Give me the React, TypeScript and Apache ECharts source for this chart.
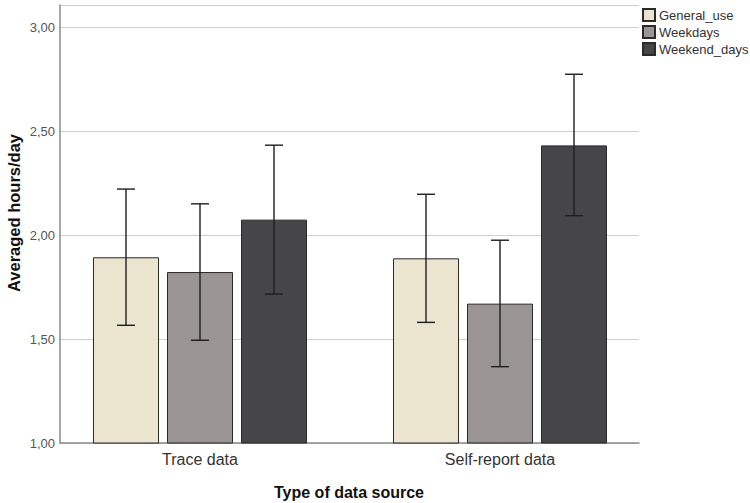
import React, { useEffect, useRef } from "react";
import * as echarts from "echarts";

const categories = ["Trace data", "Self-report data"];
const seriesNames = ["General_use", "Weekdays", "Weekend_days"];
const means = [
  [1.893, 1.888],
  [1.822, 1.67],
  [2.074, 2.431],
];
const lowerCI = [
  [1.566, 1.58],
  [1.494, 1.367],
  [1.716, 2.093],
];
const upperCI = [
  [2.221, 2.196],
  [2.15, 1.975],
  [2.432, 2.773],
];
const colors = ["#ebe4cf", "#9a9594", "#464648"];

export default function App() {
  const ref = useRef<HTMLDivElement>(null);
  useEffect(() => {
    if (!ref.current) return;
    const chart = echarts.init(ref.current, undefined, { renderer: "svg" });
    const font = "Liberation Sans, Arial, sans-serif";
    const yMin = 1;
    const yMax = 3.106;
    const barWidth = 66;
    const gap = 8;
    const offsets = [-(barWidth + gap), 0, barWidth + gap];

    const barSeries = seriesNames.map((name, i) => ({
      name,
      type: "bar",
      xAxisIndex: 1,
      yAxisIndex: 1,
      barWidth,
      barGap: (gap / barWidth) * 100 + "%",
      data: means[i],
      itemStyle: { color: colors[i], borderColor: "#2a2a2a", borderWidth: 1 },
      z: 3,
    }));

    const errSeries = seriesNames.map((name, i) => ({
      name: name + "_err",
      type: "custom",
      xAxisIndex: 1,
      yAxisIndex: 1,
      z: 5,
      data: categories.map((_, c) => [c, lowerCI[i][c], upperCI[i][c]]),
      renderItem: (params: any, api: any) => {
        const c = api.value(0);
        const lo = api.coord([c, api.value(1)]);
        const hi = api.coord([c, api.value(2)]);
        const x = lo[0] + offsets[i];
        const cap = 9;
        const style = { stroke: "#1e1e1e", lineWidth: 1.4 };
        return {
          type: "group",
          children: [
            { type: "line", shape: { x1: x, y1: hi[1], x2: x, y2: lo[1] }, style },
            { type: "line", shape: { x1: x - cap, y1: hi[1], x2: x + cap, y2: hi[1] }, style },
            { type: "line", shape: { x1: x - cap, y1: lo[1], x2: x + cap, y2: lo[1] }, style },
          ],
        };
      },
    }));

    chart.setOption({
      animation: false,
      backgroundColor: "#ffffff",
      grid: [
        { left: 60, right: 111, top: 5, bottom: 60 },
        { left: 50, right: 100, top: 5, bottom: 60 },
      ],
      xAxis: [
        {
          type: "value",
          gridIndex: 0,
          min: 0,
          max: 1,
          axisLine: { show: true, onZero: false, lineStyle: { color: "#8a8a8a", width: 1.5 } },
          axisTick: { show: false },
          axisLabel: { show: false },
          splitLine: { show: false },
        },
        {
          type: "category",
          gridIndex: 1,
          data: categories,
          axisLine: { show: false },
          axisTick: { show: false },
          axisLabel: { color: "#333333", fontSize: 16, fontFamily: font, margin: 8 },
        },
      ],
      yAxis: [
        {
          type: "value",
          gridIndex: 0,
          min: yMin,
          max: yMax,
          interval: 0.5,
          axisLine: { show: true, lineStyle: { color: "#8a8a8a", width: 1.5 } },
          axisTick: { show: false },
          axisLabel: {
            color: "#555555",
            fontSize: 13,
            fontFamily: font,
            margin: 5,
            formatter: (v: number) => (v > 3.01 ? "" : v.toFixed(2).replace(".", ",")),
          },
          splitLine: { show: true, lineStyle: { color: "#cfcfcf", width: 1.2 } },
        },
        {
          type: "value",
          gridIndex: 1,
          min: yMin,
          max: yMax,
          show: false,
          splitLine: { show: false },
        },
      ],
      legend: {
        data: seriesNames,
        orient: "vertical",
        left: 642,
        top: 8,
        itemWidth: 12,
        itemHeight: 12,
        itemGap: 3,
        icon: "rect",
        textStyle: { color: "#333333", fontSize: 13, lineHeight: 14, fontFamily: font, padding: [0, 0, 0, -1] },
        padding: 0,
        backgroundColor: "#ffffff",
      },
      graphic: [
        {
          type: "text",
          x: 14,
          y: 213,
          rotation: Math.PI / 2,
          style: {
            text: "Averaged hours/day",
            font: "bold 16.5px Liberation Sans, Arial, sans-serif",
            fill: "#111111",
            align: "center",
            verticalAlign: "middle",
          },
        },
        {
          type: "text",
          x: 349,
          y: 492,
          style: {
            text: "Type of data source",
            font: "bold 16px Liberation Sans, Arial, sans-serif",
            fill: "#111111",
            align: "center",
            verticalAlign: "middle",
          },
        },
      ],
      series: [...barSeries, ...errSeries],
    });
    return () => chart.dispose();
  }, []);
  return <div ref={ref} style={{ width: 750, height: 503, position: "absolute", left: 0, top: 0 }} />;
}
